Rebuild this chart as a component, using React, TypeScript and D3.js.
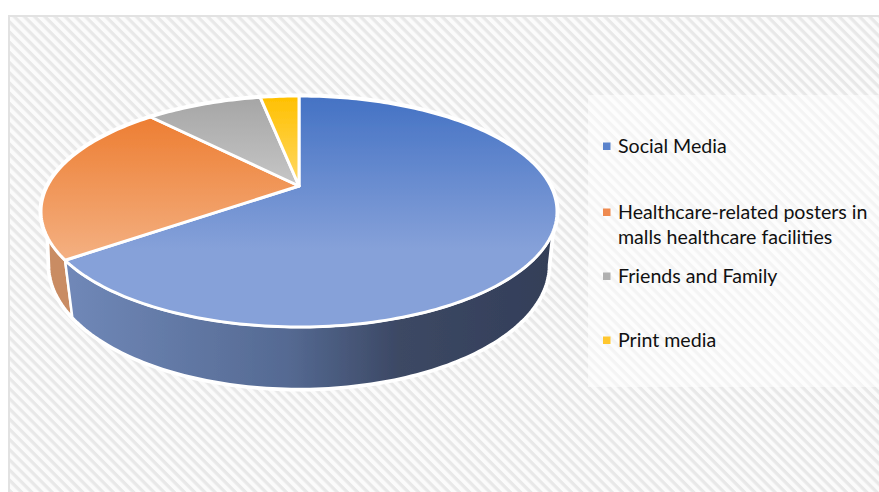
import React from "react";
import * as d3 from "d3";

const categories = ["Social Media", "Healthcare-related posters in malls healthcare facilities", "Friends and Family", "Print media"];
const values = [65, 23, 9, 3];
const legendLines = [["Social Media"], ["Healthcare-related posters in", "malls healthcare facilities"], ["Friends and Family"], ["Print media"]];
const legendRowY = [146, 212, 276, 340];
const topStops = [["#4472c4", "#86a1d9"], ["#ed7d31", "#f4b183"], ["#a5a5a5", "#c6c6c6"], ["#ffc000", "#ffd966"]];
const legendColors = ["#5b83cc", "#ef8a4f", "#b0b0b0", "#ffc72e"];

const W = 879, H = 492;
const cx = 299, cy = 211.5, rx = 258, ry = 115.5;
const apexY = 186;
const botCy = 265, botRx = 250, botRy = 124;
const k = (cy - apexY) / ry;

// perspective map: circle angle (clockwise from top) -> point on the tilted rim
function rim(a: number, c = cy, ex = rx, ey = ry): [number, number] {
  const x = Math.sin(a), y = Math.cos(a);
  const d = 1 + k * y;
  const yy = (y + k) / d;
  const xx = (x * Math.sqrt(1 - k * k)) / d;
  return [cx + ex * xx, c - ey * yy];
}
function arcPoints(a0: number, a1: number, c = cy, ex = rx, ey = ry) {
  const n = Math.max(2, Math.ceil(Math.abs(a1 - a0) / 0.02));
  return d3.range(n + 1).map((i) => rim(a0 + ((a1 - a0) * i) / n, c, ex, ey));
}
const line = d3.line();

const slices = d3.pie<number>().sort(null)(values);
const blueEnd = slices[0].endAngle;
const rightTop = 1.97, rightBot = 1.79;
const leftTop = 4.268, leftBot = 4.49;

function sidePath(t0: number, t1: number, b0: number, b1: number) {
  const topPts = arcPoints(t0, t1);
  const botPts = arcPoints(b1, b0, botCy, botRx, botRy);
  return line([...topPts, ...botPts])! + "Z";
}

export default function App() {
  const silhouette = arcPoints(0, 2 * Math.PI);
  const lower = [...arcPoints(rightTop, leftTop), ...arcPoints(leftBot, rightBot, botCy, botRx, botRy)];
  return (
    <svg width={W} height={H} style={{ position: "absolute", left: 0, top: 0 }} fontFamily="Lato, 'Open Sans', sans-serif">
      <defs>
        <pattern id="hatch" width="7.2" height="7.2" patternUnits="userSpaceOnUse" patternTransform="rotate(45)">
          <rect width="7.2" height="7.2" fill="#fbfbfb" />
          <rect width="7.2" height="3.2" fill="#e8e8e8" />
        </pattern>
        <pattern id="hatch2" width="7.2" height="7.2" patternUnits="userSpaceOnUse" patternTransform="rotate(45)">
          <rect width="7.2" height="7.2" fill="#fdfdfd" />
          <rect width="7.2" height="3.2" fill="#f4f4f4" />
        </pattern>
        {topStops.map((s, i) => (
          <linearGradient key={i} id={`top${i}`} gradientUnits="userSpaceOnUse" x1="0" x2="0" y1={i === 1 ? 115 : 96} y2={i === 0 ? 250 : i === 1 ? 262 : 186}>
            <stop offset="0" stopColor={s[0]} />
            <stop offset="1" stopColor={s[1]} />
          </linearGradient>
        ))}
        <linearGradient id="sideBlue" gradientUnits="userSpaceOnUse" x1="66" x2="556" y1="0" y2="0">
          <stop offset="0" stopColor="#7088b8" />
          <stop offset="0.45" stopColor="#556a93" />
          <stop offset="0.68" stopColor="#3c4864" />
          <stop offset="1" stopColor="#333e58" />
        </linearGradient>
        <filter id="blur" x="-5%" y="-5%" width="110%" height="110%">
          <feGaussianBlur stdDeviation="0.6" />
        </filter>
      </defs>
      <rect width={W} height={H} fill="#ffffff" />
      <rect x={9} y={16} width={W} height={H} fill="url(#hatch)" stroke="#e2e2e2" strokeWidth={2} />
      <rect x={588} y={95} width={291} height={292} fill="url(#hatch2)" />
      <g filter="url(#blur)">
        <path d={line(lower)! + "Z"} fill="#fff" stroke="#fff" strokeWidth={5} strokeLinejoin="round" />
        <path d={line(silhouette)! + "Z"} fill="#fff" stroke="#fff" strokeWidth={5} />
        <path d={sidePath(leftTop, blueEnd, leftBot, blueEnd)} fill="#c98c63" stroke="#fff" strokeWidth={2.5} strokeLinejoin="round" />
        <path d={sidePath(rightTop, blueEnd, rightBot, blueEnd)} fill="url(#sideBlue)" stroke="#fff" strokeWidth={2.5} strokeLinejoin="round" />
        {slices.map((s, i) => {
          const pts = [[cx, apexY] as [number, number], ...arcPoints(s.startAngle, s.endAngle)];
          return <path key={categories[i]} d={line(pts)! + "Z"} fill={`url(#top${i})`} stroke="#fff" strokeWidth={3} strokeLinejoin="round" />;
        })}
      </g>
      {legendLines.map((rows, i) => (
        <g key={i}>
          <rect x={603} y={legendRowY[i] - 3.5} width={7.5} height={7.5} fill={legendColors[i]} />
          {rows.map((t, j) => (
            <text key={j} x={618} y={legendRowY[i] + 6.5 + j * 25} fontSize={19.6} fill="#111">{t}</text>
          ))}
        </g>
      ))}
    </svg>
  );
}
